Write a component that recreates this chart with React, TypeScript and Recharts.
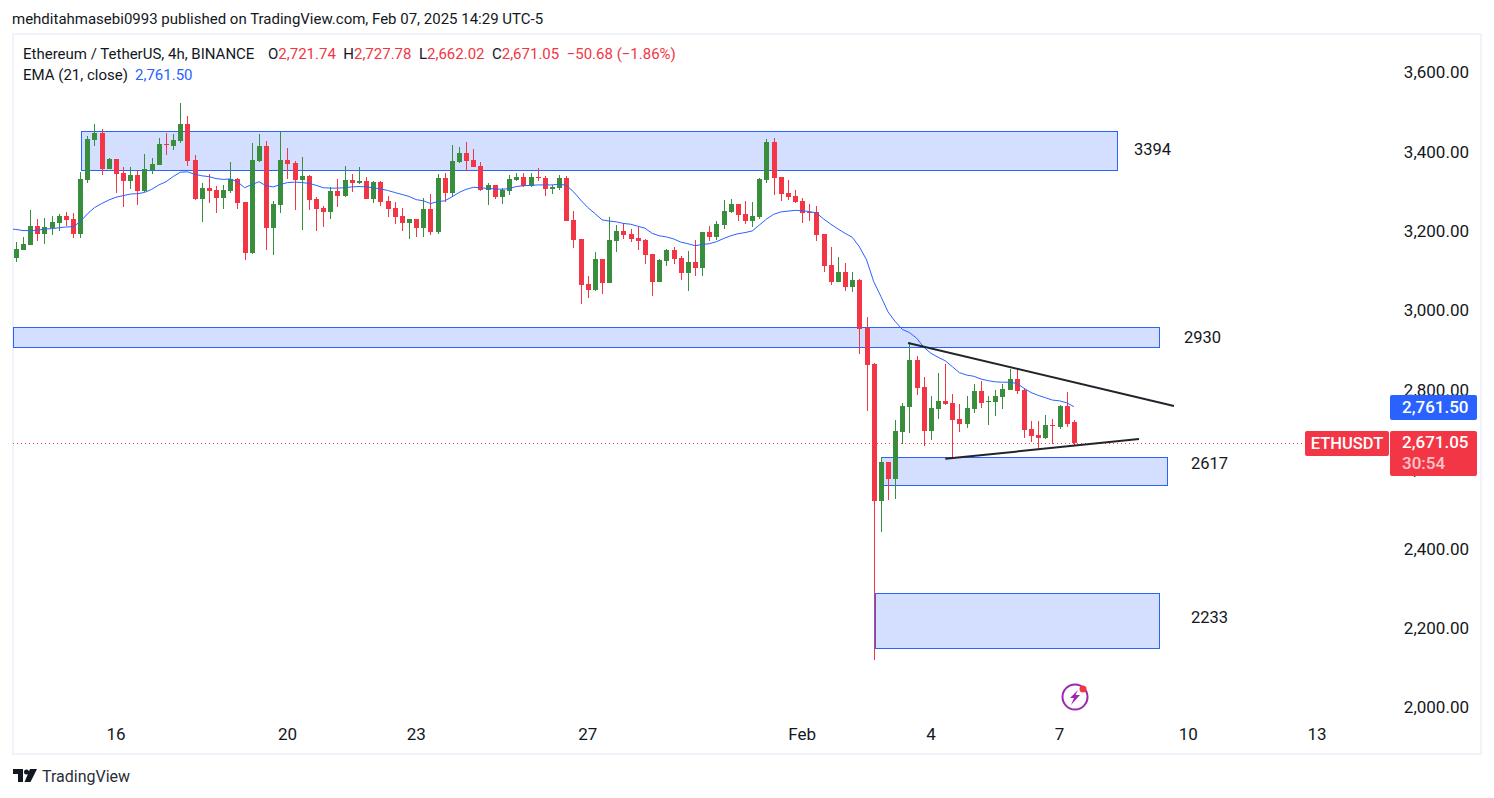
import React from 'react';
import { ComposedChart, Bar, Line, XAxis, YAxis, ReferenceArea, ReferenceLine } from 'recharts';

const opens = [3136,3156,3168,3216,3196,3211,3224,3241,3234,3196,3332,3433,3451,3360,3385,3350,3330,3345,3304,3357,3370,3423,3418,3430,3473,3383,3284,3312,3307,3287,3304,3335,3277,3148,3380,3418,3211,3269,3383,3375,3332,3342,
  3285,3262,3252,3305,3292,3333,3325,3330,3285,3328,3280,3262,3242,3224,3235,3212,3260,3202,3338,3300,3378,3401,3383,3368,3308,3320,3290,3305,3333,3340,3318,3340,3338,3310,3313,3338,
  3232,3184,3070,3055,3133,3073,3179,3204,3196,3186,3181,3146,3075,3128,3156,3136,3098,3126,3111,3201,3189,3219,3252,3272,3247,3229,3239,3332,3428,3340,3300,3292,3279,3252,3252,3196,3118,3075,
  3101,3063,3081,2960,2869,2524,2622,2579,2698,2761,2879,2811,2700,2756,2776,2771,2730,2718,2756,2801,2773,2773,2786,2803,2831,2803,2705,2690,2682,2715,2710,2763,2721.74];
const highs = [3176,3189,3257,3234,3236,3241,3247,3252,3249,3352,3443,3473,3461,3388,3385,3365,3365,3355,3398,3388,3438,3451,3448,3526,3493,3395,3325,3347,3317,3320,3378,3337,3277,3425,3448,3430,3279,3453,3413,3380,3390,3345,
  3290,3267,3315,3335,3368,3348,3366,3340,3330,3330,3292,3277,3262,3235,3235,3287,3298,3348,3350,3421,3416,3429,3411,3378,3325,3320,3313,3345,3350,3350,3350,3363,3343,3320,3345,3343,
  3254,3184,3090,3151,3133,3239,3219,3224,3209,3214,3184,3146,3133,3159,3164,3141,3153,3181,3201,3216,3229,3282,3285,3272,3279,3277,3337,3436,3438,3340,3332,3307,3287,3272,3267,3196,3164,3138,
  3123,3101,3083,2987,2871,2635,2622,2728,2771,2924,2889,2836,2788,2846,2869,2793,2768,2788,2819,2826,2788,2803,2819,2856,2856,2808,2725,2725,2740,2730,2766,2798,2727.78];
const lows = [3126,3156,3168,3178,3171,3194,3204,3216,3186,3186,3325,3418,3345,3360,3299,3264,3310,3269,3302,3347,3370,3395,3408,3425,3367,3282,3226,3274,3249,3259,3299,3259,3131,3146,3378,3156,3143,3249,3335,3257,3206,3257,
  3204,3214,3235,3265,3290,3303,3323,3285,3275,3267,3240,3222,3204,3184,3189,3189,3194,3197,3277,3292,3376,3355,3366,3305,3270,3285,3272,3295,3330,3315,3315,3330,3292,3298,3308,3229,
  3161,3020,3035,3053,3045,3073,3151,3184,3176,3156,3121,3040,3075,3116,3121,3080,3053,3090,3090,3179,3181,3209,3249,3229,3222,3214,3234,3325,3295,3279,3282,3274,3224,3229,3179,3101,3068,3075,
  3053,3050,2894,2750,2123,2446,2526,2529,2667,2695,2791,2662,2677,2730,2766,2630,2698,2708,2745,2758,2715,2738,2756,2803,2793,2682,2672,2652,2680,2667,2705,2710,2662.02];
const closes = [3158,3171,3216,3196,3214,3226,3241,3231,3196,3335,3436,3451,3360,3385,3347,3330,3345,3304,3360,3373,3423,3420,3433,3473,3380,3284,3312,3304,3287,3307,3335,3274,3148,3383,3418,3211,3272,3383,3373,3332,3342,3282,
  3260,3252,3305,3292,3333,3325,3330,3285,3328,3277,3260,3240,3224,3235,3212,3260,3202,3338,3300,3381,3401,3381,3366,3308,3320,3290,3308,3335,3340,3318,3340,3338,3310,3315,3338,3229,
  3181,3068,3055,3133,3073,3181,3204,3194,3184,3179,3143,3075,3131,3156,3133,3098,3126,3111,3201,3189,3222,3254,3272,3244,3229,3242,3335,3428,3337,3297,3290,3277,3249,3249,3194,3116,3075,3101,
  3063,3081,2957,2866,2524,2622,2579,2700,2763,2879,2808,2700,2758,2776,2768,2728,2718,2758,2801,2771,2776,2788,2806,2831,2801,2703,2688,2682,2715,2713,2763,2718,2671.05];
const emas = [3208,3205,3205,3206,3209,3210,3212,3214,3215,3227,3247,3263,3273,3282,3289,3293,3297,3298,3301,3309,3320,3328,3341,3352,3353,3347,3343,3341,3336,3334,3335,3328,3313,3321,3328,3318,3315,3321,3326,3327,3326,3324,
  3319,3313,3312,3312,3313,3315,3316,3315,3313,3310,3306,3301,3296,3291,3283,3280,3273,3278,3280,3290,3301,3309,3314,3313,3311,3310,3309,3311,3316,3318,3319,3320,3320,3320,3322,3319,
  3303,3282,3263,3248,3232,3229,3227,3223,3221,3216,3211,3198,3192,3189,3184,3176,3172,3167,3170,3172,3177,3185,3192,3197,3200,3204,3219,3234,3246,3252,3254,3256,3255,3253,3249,3234,3221,3209,
  3198,3188,3164,3131,3076,3039,3000,2976,2956,2948,2934,2911,2896,2886,2877,2862,2847,2841,2838,2831,2827,2824,2823,2823,2820,2808,2797,2790,2784,2778,2776,2771,2761.5];
// the EMA already runs in from the left edge, before the first visible candle
const emaBeforeFirstBar = 3209;

const priceTicks = [2000, 2200, 2400, 2600, 2800, 3000, 3200, 3400, 3600];
const dateTicks = [14, 38, 56, 80, 110, 128, 146, 164, 182];
const dateLabels = ['16', '20', '23', '27', 'Feb', '4', '7', '10', '13'];

// [start bar, end bar, low price, high price]
const zones = [
  [9.15, 154, 3357, 3456],
  [-0.4, 159.9, 2911, 2961],
  [121, 161, 2563, 2634],
  [120.2, 159.9, 2152, 2291],
];
const upperTrend = [[124.8, 2922], [162, 2763]];
const lowerTrend = [[130, 2630], [157.1, 2680]];
const lastClose = 2671.05;

const GREEN = '#388e3c';
const RED = '#f23645';
const BLUE = '#2962ff';
const FONT = 'Roboto, sans-serif';

const data = [
  { i: -1, ema: emaBeforeFirstBar },
  ...opens.map((o, i) => ({ i, open: o, high: highs[i], low: lows[i], close: closes[i], ema: emas[i] })),
];

const Candle = (props: any) => {
  const { x, y, width, height, payload } = props;
  if (payload.open === undefined) return null;
  const top = Math.min(y, y + height);
  const h = Math.abs(height);
  const scale = h / (payload.high - payload.low);
  const yOf = (v: number) => Math.round(top + (payload.high - v) * scale);
  const color = payload.close >= payload.open ? GREEN : RED;
  const cx = Math.round(x + width / 2);
  const bodyTop = yOf(Math.max(payload.open, payload.close));
  const bodyBottom = yOf(Math.min(payload.open, payload.close));
  return <g>
      <rect x={cx} y={Math.round(top)} width={1} height={Math.round(h)} fill={color} />
      <rect x={cx - 2} y={bodyTop} width={5} height={Math.max(bodyBottom - bodyTop, 1)} fill={color} />
    </g>;
};

// snap the zone outline to whole pixels so the 1px border stays crisp
const Zone = ({ x, y, width, height }: any) => {
  const left = Math.round(x) + 0.5;
  const top = Math.round(y) + 0.5;
  return <rect x={left} y={top} width={Math.round(width)} height={Math.round(height)} fill="#d4dfff" stroke={BLUE} strokeWidth={1} />;
};

const PriceLine = ({ x1, y1, x2 }: any) => {
  const y = Math.round(y1) + 0.5;
  return <line x1={x1} y1={y} x2={x2} y2={y} stroke={RED} strokeWidth={1} strokeDasharray="1 3" />;
};

const PriceTick = ({ y, payload }: any) => <text x={1456} y={y + 4.5} textAnchor="end" fontSize={17} fontFamily={FONT} fill="#131722">
    {payload.value.toLocaleString('en-US', { minimumFractionDigits: 2 })}
  </text>;

const DateTick = ({ x, index }: any) => <text x={x} y={705} textAnchor="middle" fontSize={17} fontFamily={FONT} fill="#131722">
    {dateLabels[index]}
  </text>;

const abs = (left: number, top: number, extra: React.CSSProperties = {}): React.CSSProperties => ({
  position: 'absolute', left, top, whiteSpace: 'nowrap', fontFamily: FONT, ...extra
});

export default function App() {
  return <div style={{ position: 'absolute', left: 0, top: 0, width: 1494, height: 798, background: '#fff', overflow: 'hidden', color: '#131722' }}>
      <div style={abs(12, 10, { fontSize: 15 })}>mehditahmasebi0993 published on TradingView.com, Feb 07, 2025 14:29 UTC-5</div>
      <div style={{ position: 'absolute', left: 12, top: 33, width: 1466, height: 718, border: '2px solid #f0f3fa' }} />
      <div style={{ position: 'absolute', left: 13, top: 35 }}>
        <ComposedChart width={1467} height={718} data={data} margin={{ top: 0, right: 0, bottom: 0, left: 0 }}>
          <XAxis type="number" dataKey="i" domain={[-0.4, 204.8]} ticks={dateTicks} interval={0} mirror axisLine={false} tickLine={false} tick={<DateTick />} allowDataOverflow />
          <YAxis type="number" orientation="right" domain={[1889, 3697.7]} ticks={priceTicks} interval={0} mirror axisLine={false} tickLine={false} tick={<PriceTick />} allowDataOverflow />
          {zones.map((z, k) => <ReferenceArea key={k} x1={z[0]} x2={z[1]} y1={z[2]} y2={z[3]} shape={<Zone />} ifOverflow="hidden" />)}
          <ReferenceLine segment={[{ x: -0.4, y: lastClose }, { x: 180.3, y: lastClose }]} shape={<PriceLine />} />
          <Bar dataKey={(d: any) => [d.low, d.high]} barSize={5} shape={<Candle />} isAnimationActive={false} />
          <Line type="linear" dataKey="ema" stroke={BLUE} strokeWidth={1} dot={false} isAnimationActive={false} />
          <ReferenceLine segment={upperTrend.map(p => ({ x: p[0], y: p[1] }))} stroke="#22242c" strokeWidth={2} />
          <ReferenceLine segment={lowerTrend.map(p => ({ x: p[0], y: p[1] }))} stroke="#22242c" strokeWidth={2} />
        </ComposedChart>
      </div>

      <div style={abs(23, 45, { fontSize: 15 })}>Ethereum / TetherUS, 4h, BINANCE</div>
      <div style={abs(268, 45, { fontSize: 15 })}>
        O<span style={{ color: RED }}>2,721.74</span>&nbsp; H<span style={{ color: RED }}>2,727.78</span>&nbsp; L<span style={{ color: RED }}>2,662.02</span>&nbsp; C<span style={{ color: RED }}>2,671.05</span>&nbsp; <span style={{ color: RED }}>−50.68 (−1.86%)</span>
      </div>
      <div style={abs(23, 66, { fontSize: 15 })}>EMA (21, close)</div>
      <div style={abs(135, 66, { fontSize: 15, color: BLUE })}>2,761.50</div>

      <div style={abs(1134, 140, { fontSize: 16.5 })}>3394</div>
      <div style={abs(1184, 328, { fontSize: 16.5 })}>2930</div>
      <div style={abs(1191, 454, { fontSize: 16.5 })}>2617</div>
      <div style={abs(1191, 608, { fontSize: 16.5 })}>2233</div>

      <div style={abs(1390, 395, { width: 87, height: 25, background: BLUE, borderRadius: 2, color: '#fff', fontSize: 17, fontWeight: 500, lineHeight: '25px', textIndent: 12 })}>2,761.50</div>
      <div style={abs(1305, 431, { width: 84, height: 25, background: RED, borderRadius: 2, color: '#fff', fontSize: 16.5, fontWeight: 500, lineHeight: '25px', textAlign: 'center' })}>ETHUSDT</div>
      <div style={abs(1390, 431, { width: 87, height: 45, background: RED, borderRadius: 2, color: '#fff', fontSize: 17, fontWeight: 500, lineHeight: '21px', textIndent: 12 })}>
        <div style={{ marginTop: 1 }}>2,671.05</div>
        <div style={{ opacity: 0.7 }}>30:54</div>
      </div>

      <svg style={{ position: 'absolute', left: 1058, top: 680 }} width={36} height={36}>
        <circle cx={17} cy={17} r={12.5} fill="none" stroke="#9c27b0" strokeWidth={2} />
        <path d="M20 10 L12 18 L16 18 L13 25 L22 15 L17.5 15 Z" fill="#9c27b0" />
        <circle cx={25} cy={9} r={3.5} fill={RED} />
      </svg>

      <svg style={{ position: 'absolute', left: 12, top: 768 }} width={26} height={16}>
        <path d="M1 1 H11 V14 H6 V6 H1 Z" fill="#131722" />
        <circle cx={14.5} cy={4} r={2.5} fill="#131722" />
        <path d="M18 1 H25 L18.5 14 H12.5 Z" fill="#131722" />
      </svg>
      <div style={abs(42, 767, { fontSize: 16, color: '#2a2e39' })}>TradingView</div>
    </div>;
}
